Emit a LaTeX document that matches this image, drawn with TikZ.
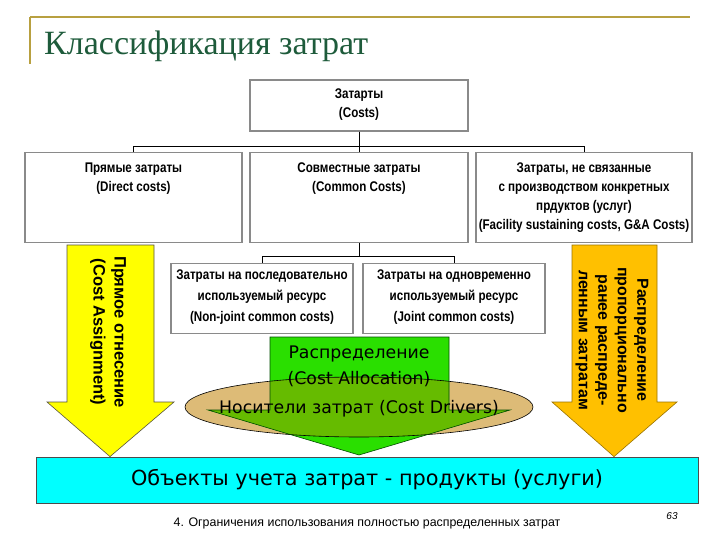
\documentclass[tikz,border=0pt]{standalone}
\usepackage{fontspec}
\setmainfont{Liberation Sans}
\newfontfamily\narrowf[FakeStretch=0.83]{Liberation Sans}
\newfontfamily\tahf{DejaVu Sans}
\newfontfamily\titlef{Liberation Serif}
\definecolor{gold}{HTML}{B8A040}
\definecolor{titlegreen}{HTML}{1E5B3B}
\definecolor{boxgray}{HTML}{8A8A8A}
\definecolor{arrgreen}{HTML}{2ADF00}
\definecolor{overgreen}{HTML}{66BB00}
\definecolor{tan}{HTML}{DDBB77}
\definecolor{yel}{HTML}{FFFF00}
\definecolor{orng}{HTML}{FFC000}
\definecolor{cyanbox}{HTML}{00FFFF}
\tikzset{
  cbox/.style={draw=boxgray, line width=1.3pt, fill=white, inner sep=0pt, align=center,
    font=\narrowf\bfseries\fontsize{14}{19}\selectfont},
  cboxtext/.style={anchor=north, align=center, inner sep=0pt,
    font=\narrowf\bfseries\fontsize{14}{19}\selectfont},
  conn/.style={draw=black, line width=1pt},
  vtext/.style={rotate=-90, align=center, font=\bfseries\fontsize{16.5}{21}\selectfont},
}
\begin{document}
\begin{tikzpicture}[x=1pt,y=-1pt]
\useasboundingbox (0,0) rectangle (720,540);
% title decoration
\draw[gold, line width=1.4pt] (30,17) -- (690,17);
\draw[gold, line width=1.4pt] (30,17) -- (30,64);
\node[anchor=base west, text=titlegreen, font=\titlef\fontsize{34}{34}\selectfont, inner sep=0pt] (title) at (44,55) {Классификация затрат};

% boxes
\node[cbox, minimum width=218pt, minimum height=51pt] (top) at (359,105.5) {};
\node[cboxtext] (topt) at (359,89) {Затарты\\(Costs)};
\node[cbox, minimum width=217pt, minimum height=90pt, anchor=north] (dir) at (133.5,152) {};
\node[cboxtext] (dirt) at (133.5,163) {Прямые затраты\\(Direct costs)};
\node[cbox, minimum width=218pt, minimum height=90pt, anchor=north] (com) at (359,152) {};
\node[cboxtext] (comt) at (359,163) {Совместные затраты\\(Common Costs)};
\node[cbox, minimum width=216pt, minimum height=90pt, anchor=north] (fac) at (584,152) {};
\node[cboxtext] (fact) at (584,163) {Затраты, не связанные\\с производством конкретных\\прдуктов (услуг)\\(Facility sustaining costs, G\&A Costs)};

\node[cbox, minimum width=182pt, minimum height=70pt, anchor=north] (nj) at (262,263) {};
\node[cboxtext, font=\narrowf\bfseries\fontsize{14}{21}\selectfont] (njt) at (262,269.5) {Затраты на последовательно\\используемый ресурс\\(Non-joint common costs)};
\node[cbox, minimum width=182pt, minimum height=70pt, anchor=north] (jc) at (454,263) {};
\node[cboxtext, font=\narrowf\bfseries\fontsize{14}{21}\selectfont] (jct) at (454,269.5) {Затраты на одновременно\\используемый ресурс\\(Joint common costs)};

% connectors
\draw[conn] (top.south) -- (com.north);
\draw[conn] (top.south) -- ++(0,15) -| (dir.north);
\draw[conn] (top.south) -- ++(0,15) -| (fac.north);
\draw[conn] (com.south) -- ++(0,13) -| (nj.north);
\draw[conn] (com.south) -- ++(0,13) -| (jc.north);

% bottom box
\node[draw=black!70, line width=0.8pt, fill=cyanbox, minimum width=662pt, minimum height=46pt, inner sep=0pt,
  font=\tahf\fontsize{20.8}{21}\selectfont] (obj) at (367,480) {Объекты учета затрат - продукты (услуги)};

% yellow arrow
\draw[fill=yel, draw=black!60!yellow!60!black, line width=0.6pt]
  (67,245) -- (154,245) -- (154,402) -- (174,402) -- (obj.north -| 110,0) -- (47,402) -- (67,402) -- cycle;
\node[vtext] (yt) at (108,332) {Прямое отнесение\\(Cost Assignment)};

% orange arrow
\draw[fill=orng, draw=orng!60!black, line width=0.6pt]
  (572,245) -- (657,245) -- (657,402) -- (677,402) -- (obj.north -| 614,0) -- (552,402) -- (572,402) -- cycle;
\node[vtext, font=\bfseries\fontsize{16}{19.5}\selectfont] (ot) at (612,340) {Распределение\\пропорционально\\ранее распреде-\\ленным затратам};

% ellipse and green arrow
\def\garrow{(270,337) -- (449,337) -- (449,410) -- (510,410) -- (359,455) -- (208,410) -- (270,410) -- cycle}
\fill[tan] (359,407) ellipse [x radius=174, y radius=30];
\fill[arrgreen] \garrow;
\begin{scope}
  \clip (359,407) ellipse [x radius=174, y radius=30];
  \fill[overgreen] \garrow;
\end{scope}
\draw[black, line width=0.6pt] (359,407) ellipse [x radius=174, y radius=30];
\draw[black!70!green, line width=0.6pt] \garrow;
\node[font=\tahf\fontsize{17.3}{26}\selectfont, align=center, inner sep=0pt] (alloc) at (359,366) {Распределение\\(Cost Allocation)};
\node[font=\tahf\fontsize{17.3}{18}\selectfont, inner sep=0pt] (drv) at (359,409) {Носители затрат (Cost Drivers)};

% footer
\node[font=\fontsize{12.4}{12}\selectfont, inner sep=0pt] (foot) at (367,523) {4. Ограничения использования полностью распределенных затрат};
\node[font=\itshape\fontsize{10}{10}\selectfont, inner sep=0pt] (pg) at (672,516) {63};
\end{tikzpicture}
\end{document}
